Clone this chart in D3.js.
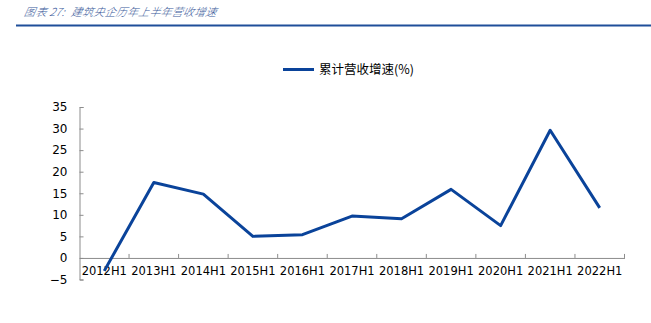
<!DOCTYPE html>
<html>
<head>
<meta charset="utf-8">
<script src="https://cdn.jsdelivr.net/npm/d3@7"></script>
<style>
  html, body { margin: 0; padding: 0; background: #fff; }
  svg { display: block; }
</style>
</head>
<body>
<svg id="chart" width="651" height="323"></svg>
<script>
// Half-year revenue growth of central construction SOEs
const categories = ["2012H1","2013H1","2014H1","2015H1","2016H1","2017H1","2018H1","2019H1","2020H1","2021H1","2022H1"];
const growth = [-3.0, 17.5, 14.8, 5.0, 5.4, 9.7, 9.1, 15.9, 7.5, 29.6, 11.6];
const yTicks = [-5, 0, 5, 10, 15, 20, 25, 30, 35];
const titleLead = "图表 27:";
const titleMain = "建筑央企历年上半年营收增速";
const seriesName = "累计营收增速(%)";

const svg = d3.select("#chart");
const lineColor = "#0a439a";
const axisColor = "#8c8c8c";
const font = "'DejaVu Sans', Verdana, sans-serif";
const cjk = "'Noto Sans CJK SC', sans-serif";

// Title and rule
const title = svg.append("text")
  .attr("y", 16)
  .attr("font-family", cjk)
  .attr("font-size", 11)
  .attr("font-weight", 300)
  .attr("font-style", "italic")
  .attr("letter-spacing", 0.3)
  .attr("fill", "#3a5a9a")
  .attr("transform", "skewX(-12) translate(3,0)");
title.append("tspan").attr("x", 24).text(titleLead);
title.append("tspan").attr("x", 71).attr("letter-spacing", 0.2).text(titleMain);
svg.append("line")
  .attr("x1", 16).attr("x2", 651)
  .attr("y1", 25.5).attr("y2", 25.5)
  .attr("stroke", "#1f4f9a").attr("stroke-width", 2);

// Scales
const x = d3.scaleBand().domain(categories).range([79.5, 624.5]);
const y = d3.scaleLinear().domain([-5, 35]).range([279.5, 107]);

// Y axis
const yAxis = d3.axisLeft(y).tickValues(yTicks).tickSize(-4).tickPadding(12).tickFormat(d3.format("d"));
const gy = svg.append("g").attr("transform", "translate(79.5,0)").call(yAxis);
gy.select(".domain").attr("stroke", axisColor);
gy.selectAll(".tick line").attr("stroke", axisColor);
gy.selectAll(".tick text").attr("font-family", font).attr("font-size", 12).attr("fill", "#000");

// X axis along zero
const xAxis = d3.axisBottom(x).tickSize(0).tickPadding(0);
const gx = svg.append("g").attr("transform", `translate(0,${y(0)})`).call(xAxis);
gx.select(".domain").attr("stroke", axisColor);
gx.selectAll(".tick text")
  .attr("font-family", font).attr("font-size", 11.5).attr("fill", "#000")
  .attr("dy", "1.45em");
// Category boundary tick marks
const bounds = categories.map(c => x(c)).concat([x.range()[1]]).slice(1);
gx.selectAll(".bound").data(bounds).enter().append("line")
  .attr("x1", d => d).attr("x2", d => d)
  .attr("y1", 0).attr("y2", -4)
  .attr("stroke", axisColor);

// Series line
const line = d3.line()
  .x((d, i) => x(categories[i]) + x.bandwidth() / 2)
  .y(d => y(d));
svg.append("path")
  .datum(growth)
  .attr("d", line)
  .attr("fill", "none")
  .attr("stroke", lineColor)
  .attr("stroke-width", 3)
  .attr("stroke-linejoin", "round");

// Legend
svg.append("line")
  .attr("x1", 283).attr("x2", 314)
  .attr("y1", 69.5).attr("y2", 69.5)
  .attr("stroke", lineColor).attr("stroke-width", 3);
svg.append("text")
  .attr("x", 319).attr("y", 74)
  .attr("font-family", cjk)
  .attr("font-size", 12.5)
  .attr("fill", "#000")
  .text(seriesName);
</script>
</body>
</html>
